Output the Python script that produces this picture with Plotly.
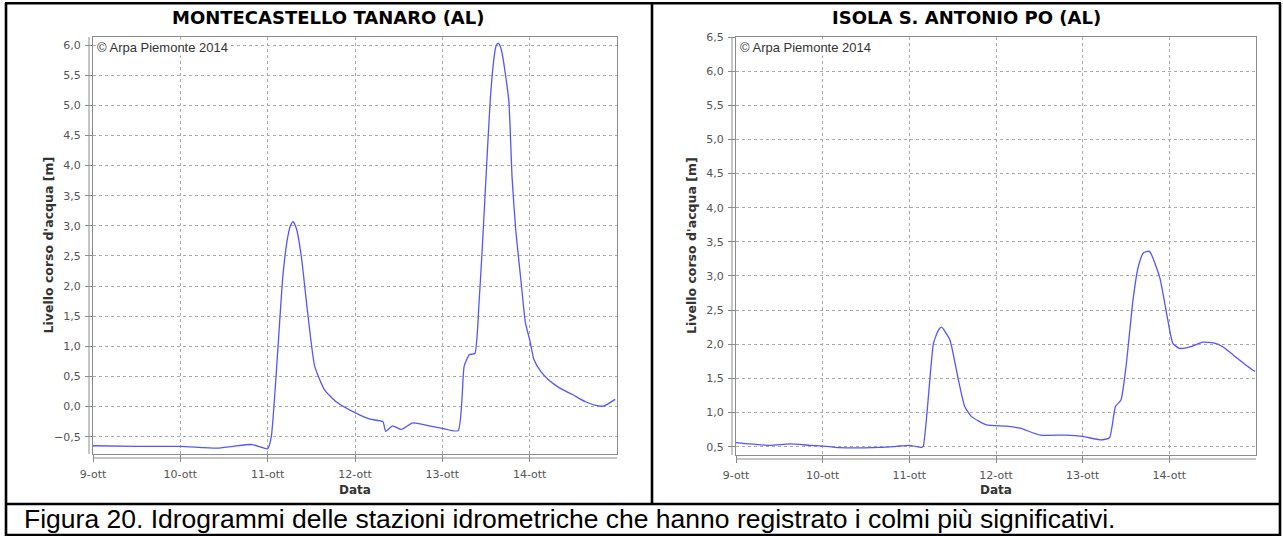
import plotly.graph_objects as go

W, H = 1283, 536

# Montecastello Tanaro (AL) - livello idrometrico [m]
tanaro_time = [
    "2014-10-09 00:00", "2014-10-09 12:00", "2014-10-10 00:00", "2014-10-10 10:00", "2014-10-10 14:30", "2014-10-10 19:40",
    "2014-10-11 00:00", "2014-10-11 01:00", "2014-10-11 04:10", "2014-10-11 05:20", "2014-10-11 06:15", "2014-10-11 07:00",
    "2014-10-11 07:55", "2014-10-11 09:15", "2014-10-11 11:00", "2014-10-11 12:55", "2014-10-11 15:35", "2014-10-11 18:50",
    "2014-10-12 00:15", "2014-10-12 04:05", "2014-10-12 07:40", "2014-10-12 08:25", "2014-10-12 10:20", "2014-10-12 12:45",
    "2014-10-12 15:50", "2014-10-12 20:25",
    "2014-10-13 00:00", "2014-10-13 04:20", "2014-10-13 06:00", "2014-10-13 07:25", "2014-10-13 08:55", "2014-10-13 10:05",
    "2014-10-13 11:00", "2014-10-13 12:00", "2014-10-13 13:10", "2014-10-13 14:15", "2014-10-13 14:45", "2014-10-13 15:20",
    "2014-10-13 15:55", "2014-10-13 16:35", "2014-10-13 18:15", "2014-10-13 19:10", "2014-10-13 20:10", "2014-10-13 21:35",
    "2014-10-13 22:50",
    "2014-10-14 00:00", "2014-10-14 01:10", "2014-10-14 03:05", "2014-10-14 05:15", "2014-10-14 08:10", "2014-10-14 11:45",
    "2014-10-14 15:20", "2014-10-14 18:55", "2014-10-14 20:25", "2014-10-14 23:30",
]
tanaro_level = [
    -0.65, -0.66, -0.66, -0.69, -0.66, -0.63,
    -0.70, -0.50, 2.16, 2.75, 3.00, 3.07,
    2.95, 2.49, 1.55, 0.67, 0.28, 0.08,
    -0.11, -0.21, -0.25, -0.41, -0.32, -0.38,
    -0.27, -0.32,
    -0.36, -0.40, 0.67, 0.86, 0.88, 1.72,
    2.66, 3.80, 5.09, 5.81, 5.98, 6.03,
    5.98, 5.81, 5.09, 3.80, 2.93, 2.10,
    1.39,
    1.11, 0.78, 0.58, 0.44, 0.31, 0.20,
    0.08, 0.01, 0.01, 0.12,
]

# Isola S. Antonio Po (AL) - livello idrometrico [m]
po_time = [
    "2014-10-09 00:00", "2014-10-09 03:50", "2014-10-09 09:20", "2014-10-09 14:55", "2014-10-09 20:25",
    "2014-10-10 01:55", "2014-10-10 04:50", "2014-10-10 15:50", "2014-10-10 20:25",
    "2014-10-11 00:00", "2014-10-11 03:20", "2014-10-11 03:50", "2014-10-11 06:40", "2014-10-11 08:00",
    "2014-10-11 08:55", "2014-10-11 11:15", "2014-10-11 13:25", "2014-10-11 15:20", "2014-10-11 17:15",
    "2014-10-11 21:20",
    "2014-10-12 02:50", "2014-10-12 06:40", "2014-10-12 12:15", "2014-10-12 19:25",
    "2014-10-13 00:00", "2014-10-13 05:00", "2014-10-13 07:25", "2014-10-13 09:05", "2014-10-13 10:35",
    "2014-10-13 12:00", "2014-10-13 13:55", "2014-10-13 15:20", "2014-10-13 16:50", "2014-10-13 18:30",
    "2014-10-13 21:20", "2014-10-13 23:15",
    "2014-10-14 01:00", "2014-10-14 02:50", "2014-10-14 05:45", "2014-10-14 09:20", "2014-10-14 12:15",
    "2014-10-14 14:55", "2014-10-14 17:45", "2014-10-14 21:20", "2014-10-14 23:45",
]
po_level = [
    0.56, 0.54, 0.52, 0.54, 0.52,
    0.50, 0.485, 0.49, 0.505,
    0.52, 0.49, 0.50, 2.01, 2.20,
    2.25, 2.06, 1.52, 1.09, 0.94,
    0.82,
    0.80, 0.77, 0.67, 0.67,
    0.65, 0.60, 0.63, 1.09, 1.18,
    1.67, 2.64, 3.12, 3.34, 3.36,
    2.98, 2.45,
    2.01, 1.94, 1.96, 2.03, 2.02,
    1.96, 1.84, 1.69, 1.60,
]

day_ticks = ["2014-10-09", "2014-10-10", "2014-10-11", "2014-10-12", "2014-10-13", "2014-10-14"]
day_labels = ["9-ott", "10-ott", "11-ott", "12-ott", "13-ott", "14-ott"]
x_span = ["2014-10-09", "2014-10-15"]

stations = ["MONTECASTELLO TANARO (AL)", "ISOLA S. ANTONIO PO (AL)"]
y_title = "Livello corso d'acqua [m]"
x_title = "Data"
credit = "© Arpa Piemonte 2014"
caption = "Figura 20. Idrogrammi delle stazioni idrometriche che hanno registrato i colmi più significativi."


def px_x(p):
    return p / W


def px_y(p):
    return 1 - p / H


LINE = "#5555ff"
GRID = "#aaaaaa"
EDGE = "#8c8c8c"
TICKFONT = dict(family="DejaVu Sans", size=11, color="#555555")

fig = go.Figure()
fig.add_trace(go.Scatter(x=tanaro_time, y=tanaro_level, mode="lines",
                         line=dict(color=LINE, width=1.3, shape="spline", smoothing=0.5),
                         xaxis="x", yaxis="y", showlegend=False))
fig.add_trace(go.Scatter(x=po_time, y=po_level, mode="lines",
                         line=dict(color=LINE, width=1.3, shape="spline", smoothing=0.5),
                         xaxis="x2", yaxis="y2", showlegend=False))

# plot-area pixel boxes: (left, right, top, bottom)
boxes = [(93, 617, 37, 454), (736, 1256, 37, 455)]
y_ranges = [[-0.787, 6.133], [0.378, 6.5]]


def xaxis_cfg(box, anchor):
    return dict(domain=[px_x(box[0]), px_x(box[1])], anchor=anchor, type="date",
                range=x_span, tickmode="array", tickvals=day_ticks, ticktext=day_labels,
                showgrid=True, gridcolor=GRID, griddash="dot", gridwidth=1,
                showline=True, mirror=True, linecolor=EDGE, linewidth=1,
                ticks="outside", ticklen=7, tickcolor=EDGE, tickfont=TICKFONT,
                ticklabelstandoff=3, zeroline=False, automargin=False)


def yaxis_cfg(box, anchor, rng):
    return dict(domain=[px_y(box[3]), px_y(box[2])], anchor=anchor, range=rng,
                tickmode="linear", tick0=0, dtick=0.5, tickformat=".1f",
                showgrid=True, gridcolor=GRID, griddash="dot", gridwidth=1,
                showline=True, mirror=True, linecolor=EDGE, linewidth=1,
                ticks="outside", ticklen=7, tickcolor=EDGE, tickfont=TICKFONT,
                ticklabelstandoff=2, zeroline=False, automargin=False)


fig.update_layout(
    width=W, height=H, margin=dict(l=0, r=0, t=0, b=0, pad=0), autosize=False,
    paper_bgcolor="white", plot_bgcolor="white",
    separators=",.",
    xaxis=xaxis_cfg(boxes[0], "y"),
    yaxis=yaxis_cfg(boxes[0], "x", y_ranges[0]),
    xaxis2=xaxis_cfg(boxes[1], "y2"),
    yaxis2=yaxis_cfg(boxes[1], "x2", y_ranges[1]),
)

shapes = []
annotations = []

# outer table frame
frame = dict(type="line", xref="paper", yref="paper", line=dict(color="black", width=2.6))
shapes.append(dict(frame, x0=px_x(5), x1=px_x(1281), y0=px_y(3.3), y1=px_y(3.3)))
shapes.append(dict(frame, x0=px_x(5), x1=px_x(1281), y0=px_y(504), y1=px_y(504)))
shapes.append(dict(frame, x0=px_x(5), x1=px_x(1281), y0=px_y(535), y1=px_y(535)))
shapes.append(dict(frame, x0=px_x(6), x1=px_x(6), y0=px_y(3), y1=px_y(536)))
shapes.append(dict(frame, x0=px_x(1280), x1=px_x(1280), y0=px_y(3), y1=px_y(536)))
shapes.append(dict(frame, x0=px_x(652), x1=px_x(652), y0=px_y(3), y1=px_y(504)))

title_x = [328, 966]
ytitle_x = [48, 692]
for i, (box, name) in enumerate(zip(boxes, stations)):
    xr = "x domain" if i == 0 else "x2 domain"
    yr = "y domain" if i == 0 else "y2 domain"
    # offset axis lines outside the plot outline
    shapes.append(dict(type="line", xref=xr, yref=yr, xsizemode="pixel", xanchor=0,
                       x0=-4, x1=-4, y0=0, y1=1, line=dict(color=EDGE, width=1)))
    shapes.append(dict(type="line", xref=xr, yref=yr, ysizemode="pixel", yanchor=0,
                       y0=-4, y1=-4, x0=0, x1=1, line=dict(color=EDGE, width=1)))
    annotations.append(dict(text=f"<b>{name}</b>", xref="paper", yref="paper",
                            x=px_x(title_x[i]), y=px_y(17), xanchor="center", yanchor="middle",
                            showarrow=False,
                            font=dict(family="DejaVu Sans", size=18, color="black")))
    annotations.append(dict(text=f"<b>{y_title}</b>", xref="paper", yref="paper",
                            x=px_x(ytitle_x[i]), y=px_y((box[2] + box[3]) / 2),
                            xanchor="center", yanchor="middle", textangle=-90, showarrow=False,
                            font=dict(family="DejaVu Sans", size=12.5, color="#333333")))
    annotations.append(dict(text=f"<b>{x_title}</b>", xref="paper", yref="paper",
                            x=px_x((box[0] + box[1]) / 2), y=px_y(490),
                            xanchor="center", yanchor="middle", showarrow=False,
                            font=dict(family="DejaVu Sans", size=12, color="#333333")))
    annotations.append(dict(text=credit, xref=xr, yref=yr, x=0, y=1,
                            xanchor="left", yanchor="top", align="left", xshift=3, yshift=-2,
                            bgcolor="white", borderpad=0, showarrow=False,
                            font=dict(family="Liberation Sans", size=13, color="#333333")))

annotations.append(dict(text=caption, xref="paper", yref="paper",
                        x=px_x(569.5), y=px_y(519), xanchor="center", yanchor="middle",
                        align="center", showarrow=False,
                        font=dict(family="Liberation Sans", size=26.5, color="black")))

fig.update_layout(shapes=shapes, annotations=annotations)
fig.write_html(
    "out.html",
    post_script="document.body.style.margin='0';document.body.style.overflow='hidden';",
)
